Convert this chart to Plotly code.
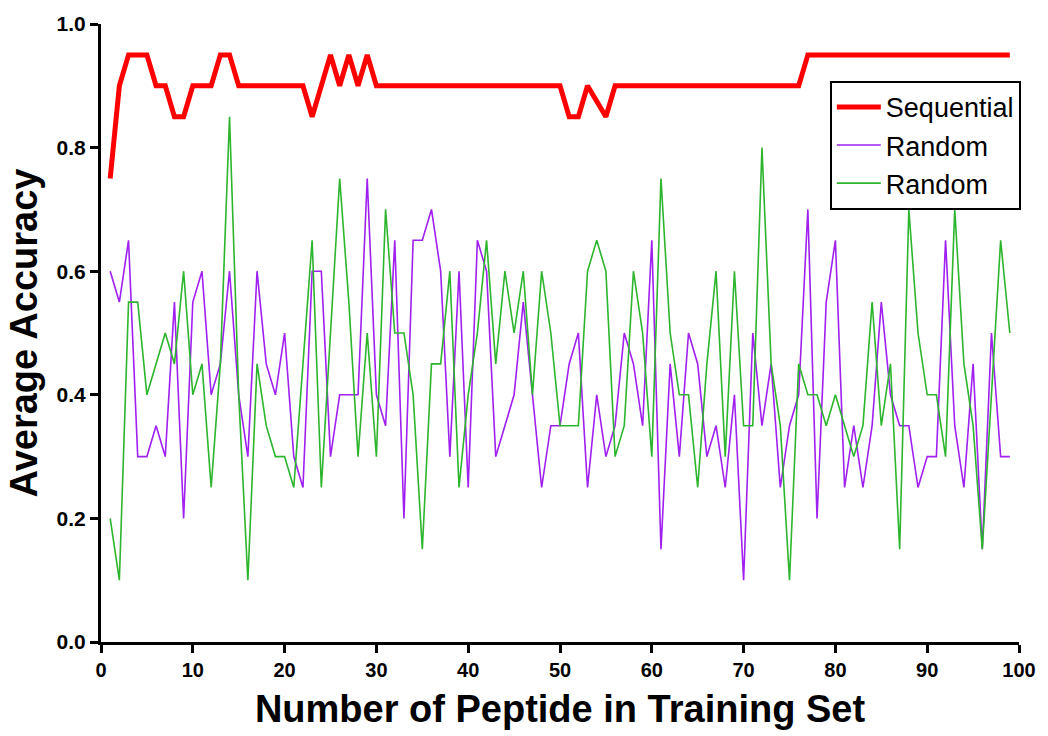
import plotly.graph_objects as go

x_vals = list(range(1, 100))

sequential = [0.75, 0.9, 0.95, 0.95, 0.95, 0.9, 0.9, 0.85, 0.85, 0.9,
              0.9, 0.9, 0.95, 0.95, 0.9, 0.9, 0.9, 0.9, 0.9, 0.9,
              0.9, 0.9, 0.85, 0.9, 0.95, 0.9, 0.95, 0.9, 0.95, 0.9,
              0.9, 0.9, 0.9, 0.9, 0.9, 0.9, 0.9, 0.9, 0.9, 0.9,
              0.9, 0.9, 0.9, 0.9, 0.9, 0.9, 0.9, 0.9, 0.9, 0.9,
              0.85, 0.85, 0.9, 0.875, 0.85, 0.9, 0.9, 0.9, 0.9, 0.9,
              0.9, 0.9, 0.9, 0.9, 0.9, 0.9, 0.9, 0.9, 0.9, 0.9,
              0.9, 0.9, 0.9, 0.9, 0.9, 0.9, 0.95, 0.95, 0.95, 0.95,
              0.95, 0.95, 0.95, 0.95, 0.95, 0.95, 0.95, 0.95, 0.95, 0.95,
              0.95, 0.95, 0.95, 0.95, 0.95, 0.95, 0.95, 0.95, 0.95]

random_purple = [0.6, 0.55, 0.65, 0.3, 0.3, 0.35, 0.3, 0.55, 0.2, 0.55,
                 0.6, 0.4, 0.45, 0.6, 0.4, 0.3, 0.6, 0.45, 0.4, 0.5,
                 0.3, 0.25, 0.6, 0.6, 0.3, 0.4, 0.4, 0.4, 0.75, 0.4,
                 0.35, 0.65, 0.2, 0.65, 0.65, 0.7, 0.6, 0.3, 0.6, 0.25,
                 0.65, 0.6, 0.3, 0.35, 0.4, 0.55, 0.4, 0.25, 0.35, 0.35,
                 0.45, 0.5, 0.25, 0.4, 0.3, 0.35, 0.5, 0.45, 0.35, 0.65,
                 0.15, 0.45, 0.3, 0.5, 0.45, 0.3, 0.35, 0.25, 0.4, 0.1,
                 0.5, 0.35, 0.45, 0.25, 0.35, 0.4, 0.7, 0.2, 0.55, 0.65,
                 0.25, 0.35, 0.25, 0.35, 0.55, 0.4, 0.35, 0.35, 0.25, 0.3,
                 0.3, 0.65, 0.35, 0.25, 0.45, 0.15, 0.5, 0.3, 0.3]

random_green = [0.2, 0.1, 0.55, 0.55, 0.4, 0.45, 0.5, 0.45, 0.6, 0.4,
                0.45, 0.25, 0.45, 0.85, 0.4, 0.1, 0.45, 0.35, 0.3, 0.3,
                0.25, 0.45, 0.65, 0.25, 0.5, 0.75, 0.55, 0.3, 0.5, 0.3,
                0.7, 0.5, 0.5, 0.4, 0.15, 0.45, 0.45, 0.6, 0.25, 0.4,
                0.5, 0.65, 0.45, 0.6, 0.5, 0.6, 0.4, 0.6, 0.5, 0.35,
                0.35, 0.35, 0.6, 0.65, 0.6, 0.3, 0.35, 0.6, 0.5, 0.3,
                0.75, 0.5, 0.4, 0.4, 0.25, 0.45, 0.6, 0.3, 0.6, 0.35,
                0.35, 0.8, 0.45, 0.35, 0.1, 0.45, 0.4, 0.4, 0.35, 0.4,
                0.35, 0.3, 0.35, 0.55, 0.35, 0.45, 0.15, 0.7, 0.5, 0.4,
                0.4, 0.3, 0.7, 0.45, 0.35, 0.15, 0.4, 0.65, 0.5]

x_ticks = [0, 10, 20, 30, 40, 50, 60, 70, 80, 90, 100]
y_ticks = [0.0, 0.2, 0.4, 0.6, 0.8, 1.0]

FONT = "Liberation Sans, Arial, Helvetica, sans-serif"

fig = go.Figure()
fig.add_trace(go.Scatter(x=x_vals, y=random_purple, mode="lines", name="Random",
                         line=dict(color="#A020F0", width=1.6), legendrank=2))
fig.add_trace(go.Scatter(x=x_vals, y=random_green, mode="lines", name="Random",
                         line=dict(color="#2DB52D", width=1.6), legendrank=3))
fig.add_trace(go.Scatter(x=x_vals, y=sequential, mode="lines", name="Sequential",
                         line=dict(color="#FF0000", width=5), legendrank=1))

fig.update_layout(
    width=1048, height=736,
    margin=dict(l=101, r=20, t=20, b=93),
    paper_bgcolor="white", plot_bgcolor="white",
    font=dict(family=FONT, color="black"),
    showlegend=True,
    legend=dict(x=1.002, y=0.908, xanchor="right", yanchor="top",
                bordercolor="black", borderwidth=2, bgcolor="white",
                font=dict(size=27, family=FONT, color="black"),
                traceorder="normal", itemwidth=44, tracegroupgap=0),
)
fig.update_xaxes(
    range=[0, 100], tickvals=x_ticks, ticktext=[str(v) for v in x_ticks],
    showgrid=False, zeroline=False, showline=True, linecolor="black", linewidth=3,
    ticks="outside", ticklen=8, tickwidth=3, tickcolor="black",
    tickfont=dict(size=20, family=FONT, weight="bold"),
    title=dict(text="<b>Number of Peptide in Training Set</b>",
               font=dict(size=38, family=FONT), standoff=16),
)
fig.update_yaxes(
    range=[0, 1.0], tickvals=y_ticks, ticktext=[f"{v:.1f}" for v in y_ticks],
    showgrid=False, zeroline=False, showline=True, linecolor="black", linewidth=3,
    ticks="outside", ticklen=8, tickwidth=3, tickcolor="black",
    tickfont=dict(size=21, family=FONT, weight="bold"),
    title=dict(text="<b>Average Accuracy</b>",
               font=dict(size=38, family=FONT), standoff=8),
)

fig.write_html("out.html")
